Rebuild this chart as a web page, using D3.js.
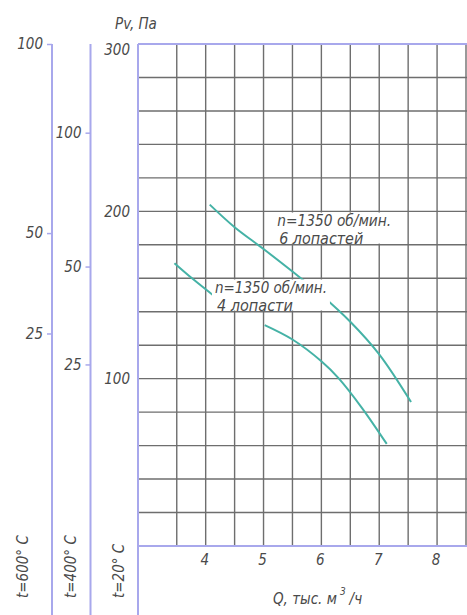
<!DOCTYPE html>
<html><head><meta charset="utf-8">
<script src="https://cdn.jsdelivr.net/npm/d3@7"></script>
<style>
body{margin:0;background:#fff;}
text{font-family:"DejaVu Sans Condensed","Liberation Sans Narrow",sans-serif;font-style:italic;fill:#4a4a4a;}
</style></head>
<body><svg id="c" width="467" height="615"></svg>
<script>
// ---- data ----
const xTicks = [4, 5, 6, 7, 8];
const xGrid = [3.5, 4, 4.5, 5, 5.5, 6, 6.5, 7, 7.5, 8, 8.5];
const yTicks = [300, 200, 100];
const yGrid = [20, 40, 60, 80, 100, 120, 140, 160, 180, 200, 220, 240, 260, 280];
// auxiliary pressure scales (t=600°C and t=400°C) with equivalent Pa at 20°C
const aux600Ticks = [100, 50, 25];
const aux600Equiv = [300, 187, 127];
const aux400Ticks = [100, 50, 25];
const aux400Equiv = [247, 167, 108.5];
const tempLabels = ["t=600° C", "t=400° C", "t=20° C"];
// curves: Q (thous. m3/h), Pv (Pa)
const q6 = [4.07, 4.5, 5.0, 5.5, 6.0, 6.5, 7.0, 7.55];
const p6 = [204, 190.5, 177.5, 164, 150, 134, 114.5, 86];
const q4 = [3.46, 3.78, 4.16, null, 5.02, 5.5, 6.0, 6.3, 6.7, 7.13];
const p4 = [169, 159.5, 149, null, 132, 123.4, 110.4, 100.2, 82.6, 61];
const label6 = ["n=1350 об/мин.", "6 лопастей"];
const label4 = ["n=1350 об/мин.", "4 лопасти"];

const svg = d3.select("#c");
const W = 467, H = 615;
const x = d3.scaleLinear().domain([2.83, 8.5]).range([138, 466]);
const y = d3.scaleLinear().domain([0, 300]).range([546, 44]);
const blue = "#a8a8ec", grid = "#6e6e6e", teal = "#45b2a6";

// grid
svg.append("g").selectAll("line").data(yGrid).join("line")
  .attr("x1", x.range()[0]).attr("x2", W).attr("y1", d => y(d)).attr("y2", d => y(d))
  .attr("stroke", grid).attr("stroke-width", 1.4);
svg.append("g").selectAll("line").data(xGrid).join("line")
  .attr("x1", d => x(d)).attr("x2", d => x(d)).attr("y1", y(300)).attr("y2", y(0))
  .attr("stroke", grid).attr("stroke-width", 1.4);

// frame lines (blue)
svg.append("line").attr("x1", x.range()[0]).attr("x2", W).attr("y1", y(300)).attr("y2", y(300)).attr("stroke", blue).attr("stroke-width", 2);
svg.append("line").attr("x1", x.range()[0]).attr("x2", W).attr("y1", y(0)).attr("y2", y(0)).attr("stroke", blue).attr("stroke-width", 2);
svg.append("line").attr("x1", x.range()[0]).attr("x2", x.range()[0]).attr("y1", y(300)).attr("y2", H).attr("stroke", blue).attr("stroke-width", 2);

// curves
const line = d3.line().defined(d => d[0] != null).x(d => x(d[0])).y(d => y(d[1])).curve(d3.curveCatmullRom.alpha(0.5));
svg.append("path").datum(q6.map((q, i) => [q, p6[i]])).attr("d", line)
  .attr("fill", "none").attr("stroke", teal).attr("stroke-width", 2);
svg.append("path").datum(q4.map((q, i) => [q, p4[i]])).attr("d", line)
  .attr("fill", "none").attr("stroke", teal).attr("stroke-width", 2);

// curve labels with white boxes (box spans one grid cell in height)
function curveLabel(lines, qx, pTop, wBox, tl, dxText) {
  const g = svg.append("g");
  const top = y(pTop), bot = y(pTop - 20);
  g.append("rect").attr("x", x(qx) - 3).attr("y", top + 1.2).attr("width", wBox)
    .attr("height", bot - top - 2.4).attr("fill", "#fff");
  lines.forEach((t, i) => {
    g.append("text").attr("x", x(qx) + dxText + (i ? 2 : 0)).attr("y", top + 15 + i * 18)
      .attr("font-size", 15).attr("textLength", tl[i]).attr("lengthAdjust", "spacingAndGlyphs").text(t);
  });
}
curveLabel(label6, 5.15, 200, 118, [114, 84], 5);
curveLabel(label4, 4.16, 160, 118, [112, 76], 0);

// main y labels
svg.append("g").selectAll("text").data(yTicks).join("text")
  .attr("x", 130).attr("y", d => Math.max(y(d), 50)).attr("dy", "0.35em")
  .attr("text-anchor", "end").attr("font-size", 15).text(d => d);

// auxiliary axes
function auxAxis(xPos, ticks, equiv, tickPad) {
  const s = d3.scaleLinear().domain(ticks.slice().reverse()).range(equiv.slice().reverse().map(y));
  const g = svg.append("g").attr("transform", `translate(${xPos},0)`);
  g.append("line").attr("x1", 0).attr("x2", 0).attr("y1", y(300)).attr("y2", H).attr("stroke", blue).attr("stroke-width", 2);
  const ax = d3.axisLeft(s).tickValues(ticks).tickSize(5).tickPadding(tickPad);
  g.append("g").call(ax).call(a => {
    a.select(".domain").remove();
    a.selectAll(".tick line").attr("stroke", blue).attr("stroke-width", 1.5);
    a.selectAll(".tick text").attr("font-size", 15).attr("font-family", null).attr("fill", "#4a4a4a");
  });
}
auxAxis(52, aux600Ticks, aux600Equiv, 4);
auxAxis(90.5, aux400Ticks, aux400Equiv, 4);

// temperature labels (rotated)
const tempX = [22.5, 71, 119];
tempLabels.forEach((t, i) => {
  svg.append("text").attr("transform", `translate(${tempX[i]},${598}) rotate(-90)`)
    .attr("dy", "0.35em").attr("font-size", 15).text(t);
});

// x tick labels
svg.append("g").selectAll("text").data(xTicks).join("text")
  .attr("x", d => x(d) - 1).attr("y", 560).attr("dy", "0.35em")
  .attr("text-anchor", "middle").attr("font-size", 15).text(d => d);

// axis titles
svg.append("text").attr("x", 115).attr("y", 23.5).attr("dy", "0.35em").attr("font-size", 15).text("Pv, Па");
const xt = svg.append("text").attr("x", 273).attr("y", 599).attr("dy", "0.35em").attr("font-size", 15);
xt.append("tspan").text("Q, тыс. м");
xt.append("tspan").attr("dx", 3).attr("dy", -9).attr("font-size", 10).text("3");
xt.append("tspan").attr("dx", 4).attr("dy", 9).text("/ч");
</script></body></html>
